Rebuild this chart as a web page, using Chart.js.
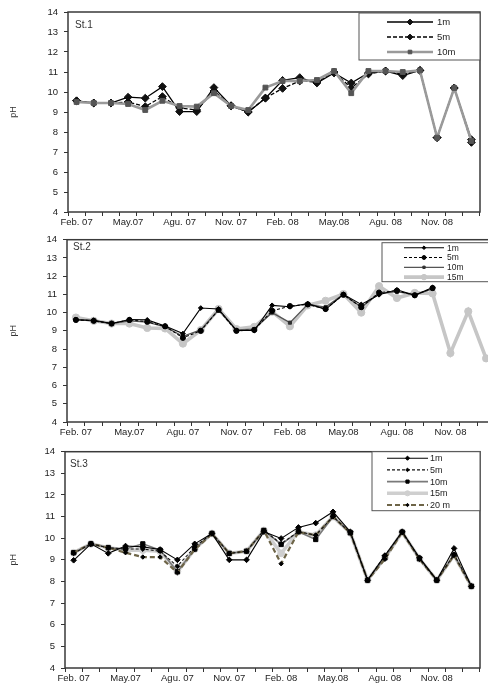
<!DOCTYPE html>
<html>
<head>
<meta charset="utf-8">
<script src="https://cdn.jsdelivr.net/npm/chart.js@4.4.1/dist/chart.umd.min.js"></script>
<style>
  html, body { margin: 0; padding: 0; background: #fff; overflow: hidden; width: 488px; height: 686px; }
  canvas { position: absolute; left: 0; }
</style>
</head>
<body>
<canvas id="c1" width="488" height="230" style="top:0px"></canvas>
<canvas id="c2" width="500" height="214" style="top:228px"></canvas>
<canvas id="c3" width="488" height="246" style="top:440px"></canvas>
<script>
// Mois : Feb. 07 -> Jan. 09
const months = ['Feb. 07','Mar. 07','Apr. 07','May.07','Jun. 07','Jul. 07','Agu. 07','Sep. 07','Oct. 07','Nov. 07','Dec. 07','Jan. 08',
                'Feb. 08','Mar. 08','Apr. 08','May.08','Jun. 08','Jul. 08','Agu. 08','Sep. 08','Oct. 08','Nov. 08','Dec. 08','Jan. 09'];
const tickLabels = ['Feb. 07','May.07','Agu. 07','Nov. 07','Feb. 08','May.08','Agu. 08','Nov. 08'];

// St.1
const st1_1m  = [9.56, 9.45, 9.45, 9.74, 9.69, 10.27, 9.02, 9.02, 10.22, 9.32, 9.0, 9.69, 10.58, 10.72, 10.45, 10.95, 10.45, 10.95, 11.05, 10.82, 11.08, 7.72, 10.2, 7.62];
const st1_5m  = [9.56, 9.45, 9.45, 9.5, 9.27, 9.77, 9.2, 9.1, 10.05, 9.3, 9.0, 9.7, 10.18, 10.55, 10.5, 11.0, 10.2, 10.9, 11.05, 10.9, 11.08, 7.72, 10.2, 7.48];
const st1_10m = [9.5, 9.45, 9.45, 9.4, 9.1, 9.56, 9.3, 9.27, 9.94, 9.3, 9.1, 10.22, 10.55, 10.55, 10.6, 11.05, 9.94, 11.05, 11.05, 11.0, 11.08, 7.72, 10.2, 7.55];

// St.2
const st2_1m  = [9.6, 9.58, 9.4, 9.62, 9.6, 9.27, 8.85, 10.25, 10.2, 9.02, 9.02, 10.4, 10.32, 10.49, 10.18, 11.0, 10.45, 10.98, 11.25, 10.95, 11.38];
const st2_5m  = [9.6, 9.55, 9.4, 9.6, 9.5, 9.25, 8.62, 9.0, 10.15, 9.0, 9.05, 10.1, 10.36, 10.45, 10.2, 10.98, 10.3, 11.1, 11.2, 10.95, 11.35];
const st2_10m = [9.62, 9.55, 9.4, 9.55, 9.48, 9.22, 8.7, 9.05, 10.15, 9.05, 9.1, 10.0, 9.45, 10.45, 10.3, 11.0, 10.3, 11.05, 11.15, 10.98, 11.3];
const st2_15m = [9.73, 9.55, 9.4, 9.4, 9.16, 9.13, 8.3, 9.04, 10.2, 9.1, 9.22, 10.05, 9.25, 10.4, 10.65, 11.02, 10.0, 11.45, 10.8, 11.08, 11.05, 7.78, 10.07, 7.49];

// St.3
const st3_1m  = [8.98, 9.74, 9.3, 9.64, 9.6, 9.48, 9.0, 9.74, 10.22, 9.0, 9.0, 10.3, 9.99, 10.5, 10.7, 11.22, 10.3, 8.06, 9.2, 10.3, 9.1, 8.06, 9.53, 7.78];
const st3_5m  = [9.3, 9.74, 9.56, 9.5, 9.5, 9.4, 8.7, 9.6, 10.22, 9.3, 9.4, 10.36, 9.75, 10.3, 10.14, 11.0, 10.25, 8.06, 9.2, 10.28, 9.05, 8.06, 9.25, 7.78];
const st3_10m = [9.33, 9.74, 9.56, 9.5, 9.74, 9.45, 8.45, 9.5, 10.22, 9.3, 9.4, 10.36, 9.71, 10.3, 9.94, 11.0, 10.25, 8.06, 9.1, 10.28, 9.05, 8.06, 9.22, 7.78];
const st3_15m = [9.33, 9.74, 9.56, 9.45, 9.45, 9.4, 8.45, 9.5, 10.22, 9.3, 9.4, 10.36, 9.3, 10.3, 10.14, 11.0, 10.25, 8.06, 9.1, 10.28, 9.05, 8.06, 9.22, 7.78];
const st3_20m = [9.33, 9.74, 9.56, 9.33, 9.13, 9.13, 8.41, 9.48, 10.2, 9.3, 9.4, 10.36, 8.82, 10.29, 10.14, 11.0, 10.25, 8.06, 9.03, 10.28, 9.03, 8.06, 9.21, 7.75];

const FONT = '"Liberation Sans", Arial, sans-serif';

// styles des séries
function serie(label, data, color, width, dash, pStyle, pRadius, pColor, order) {
    return {
        label, data, order,
        borderColor: color, borderWidth: width, borderDash: dash,
        pointStyle: pStyle, pointRadius: pRadius,
        pointBackgroundColor: pColor, pointBorderColor: pColor, pointBorderWidth: 1,
        fill: false, tension: 0
    };
}

// Plugin : cadre, nom de station, légende dans la zone du graphe
const framePlugin = {
    id: 'frame',
    beforeDatasetsDraw(chart, args, o) {
        const { ctx, chartArea: a } = chart;
        ctx.save();
        ctx.strokeStyle = '#3a3a3a';
        ctx.lineWidth = 1.5;
        ctx.strokeRect(a.left, a.top, a.right - a.left, a.bottom - a.top);
        ctx.font = '10px ' + FONT;
        ctx.fillStyle = '#333';
        ctx.textBaseline = 'middle';
        ctx.fillText(o.station, a.left + o.stX, a.top + o.stY);
        ctx.restore();
    },
    afterDatasetsDraw(chart, args, o) {
        const { ctx, chartArea: a } = chart;
        const L = o.legend;
        const bx = a.right - L.w, by = a.top + L.dy;
        ctx.save();
        ctx.fillStyle = '#fff';
        ctx.fillRect(bx, by, L.w, L.h);
        ctx.strokeStyle = '#555';
        ctx.lineWidth = 1;
        ctx.strokeRect(bx, by, L.w, L.h);
        ctx.font = L.font + 'px ' + FONT;
        ctx.textBaseline = 'middle';
        o.items.forEach((idx, k) => {
            const ds = chart.data.datasets[idx];
            const y = by + L.first + k * L.gap;
            ctx.strokeStyle = ds.borderColor;
            ctx.lineWidth = ds.borderWidth;
            ctx.setLineDash(ds.borderDash || []);
            ctx.beginPath();
            ctx.moveTo(bx + L.x0, y);
            ctx.lineTo(bx + L.x1, y);
            ctx.stroke();
            ctx.setLineDash([]);
            ctx.fillStyle = ds.pointBackgroundColor;
            ctx.strokeStyle = ds.pointBorderColor;
            ctx.lineWidth = 1;
            Chart.helpers.drawPoint(ctx, { pointStyle: ds.pointStyle, radius: ds.pointRadius * 0.75, rotation: 0, borderWidth: 1 },
                                    bx + (L.x0 + L.x1) / 2, y);
            ctx.fillStyle = '#222';
            ctx.fillText(ds.label, bx + L.tx, y + 0.5);
        });
        ctx.restore();
    }
};
Chart.register(framePlugin);

function makePanel(canvasId, datasets, frame, lay) {
    const font = { family: FONT, size: 9.5 };
    return new Chart(document.getElementById(canvasId).getContext('2d'), {
        type: 'line',
        data: { labels: months, datasets },
        options: {
            responsive: false,
            animation: false,
            layout: { padding: { top: lay.top, right: lay.right, left: 8, bottom: 0 } },
            plugins: { legend: { display: false }, tooltip: { enabled: false }, frame },
            scales: {
                x: {
                    offset: true,
                    grid: { offset: true, drawOnChartArea: false, tickLength: 4, color: '#333' },
                    border: { display: false },
                    ticks: {
                        autoSkip: false, maxRotation: 0, padding: 1, color: '#222', font,
                        callback: (v, i) => i % 3 === 0 ? tickLabels[i / 3] : ''
                    },
                    afterFit: s => { s.height = lay.xh; }
                },
                y: {
                    min: 4, max: 14,
                    grid: { drawOnChartArea: false, tickLength: 4, color: '#333' },
                    border: { display: false },
                    ticks: { stepSize: 1, padding: 6, color: '#222', font },
                    title: { display: true, text: 'pH', color: '#333', font: { family: FONT, size: 9 }, padding: 0 },
                    afterFit: s => { s.width = lay.yw - 8; }
                }
            }
        }
    });
}

// St.1
makePanel('c1', [
    serie('1m',  st1_1m,  '#000', 1.3, [],    'rectRot', 3.9, '#111', 1),
    serie('5m',  st1_5m,  '#000', 1.3, [4, 2], 'rectRot', 3.9, '#111', 2),
    serie('10m', st1_10m, '#9a9a9a', 2.6, [], 'rect', 3.4, '#555', 0)
], { station: 'St.1', stX: 7, stY: 13,
     legend: { w: 121, h: 47, dy: 1, first: 9, gap: 15, x0: 28, x1: 74, tx: 78, font: 9.5 },
     items: [0, 1, 2] },
   { top: 12, right: 8, xh: 18, yw: 68 });

// St.2
makePanel('c2', [
    serie('1m',  st2_1m,  '#000', 1.1, [],    'rectRot', 2.4, '#000', 0),
    serie('5m',  st2_5m,  '#000', 1.1, [3, 2], 'circle', 2.6, '#000', 1),
    serie('10m', st2_10m, '#555', 1.3, [],    'rect', 2.2, '#333', 2),
    serie('15m', st2_15m, '#c6c6c6', 3.6, [],  'circle', 3.6, '#c6c6c6', 3)
], { station: 'St.2', stX: 6, stY: 8,
     legend: { w: 113, h: 39, dy: 3, first: 5, gap: 9.8, x0: 22, x1: 62, tx: 65, font: 8.5 },
     items: [0, 1, 2, 3] },
   { top: 11, right: 4, xh: 20, yw: 67 });

// St.3
makePanel('c3', [
    serie('1m',  st3_1m,  '#000', 1.1, [],    'rectRot', 2.8, '#000', 0),
    serie('5m',  st3_5m,  '#111', 1.1, [3, 2], 'rectRot', 2.4, '#000', 1),
    serie('10m', st3_10m, '#7a7a7a', 1.6, [], 'rect', 3.0, '#000', 3),
    serie('15m', st3_15m, '#cfcfcf', 3.6, [], 'circle', 3.4, '#cfcfcf', 4),
    serie('20 m', st3_20m, '#6e6548', 2.2, [5, 3], 'rectRot', 2.2, '#000', 2)
], { station: 'St.3', stX: 5, stY: 13,
     legend: { w: 108, h: 59, dy: 0, first: 6.5, gap: 11.7, x0: 15, x1: 56, tx: 58, font: 9 },
     items: [0, 1, 2, 3, 4] },
   { top: 10, right: 8, xh: 18, yw: 65 });
</script>
</body>
</html>
